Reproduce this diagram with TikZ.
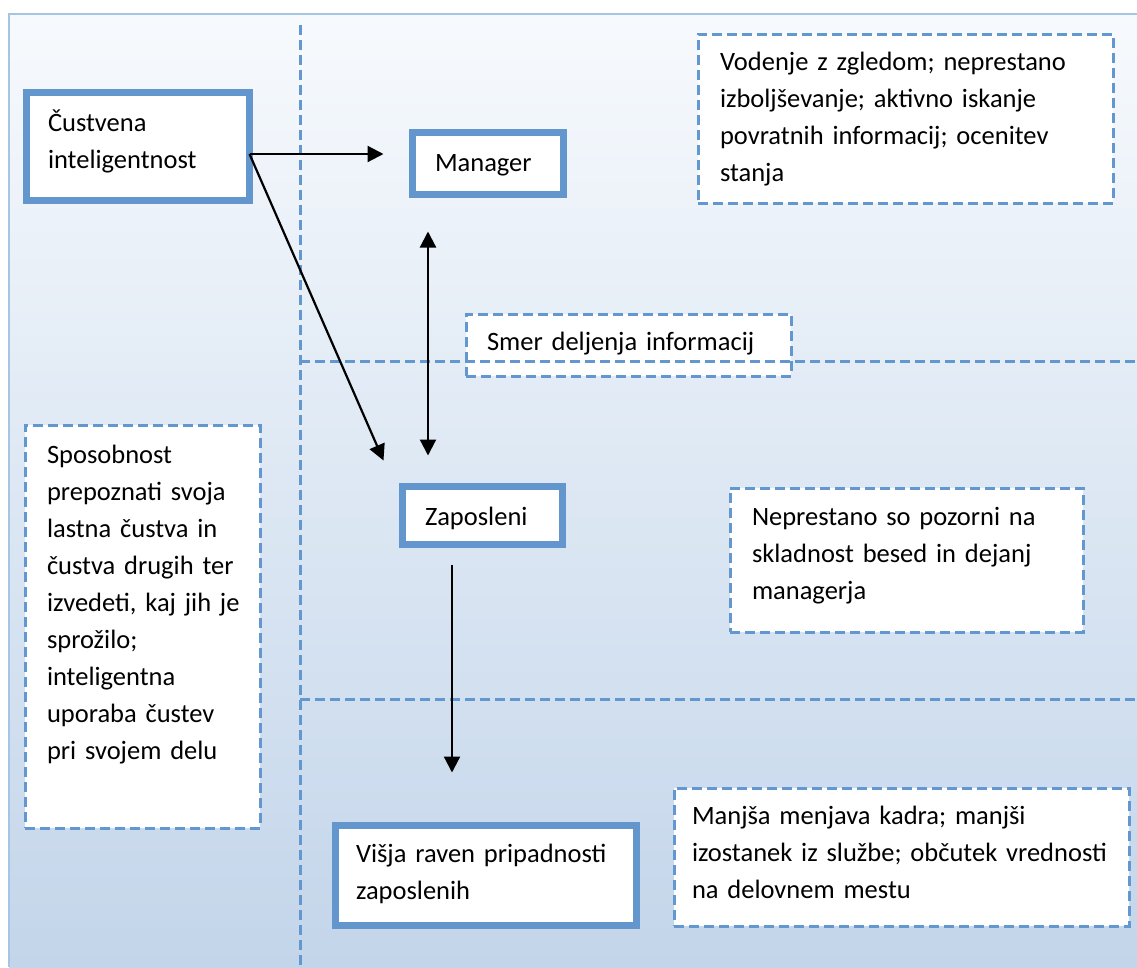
\documentclass[tikz,border=0pt]{standalone}
\usepackage{fontspec}
\setmainfont{Carlito}
\usetikzlibrary{arrows.meta}
\definecolor{bgtop}{RGB}{247,250,253}
\definecolor{bgbot}{RGB}{195,213,234}
\definecolor{framecol}{RGB}{166,196,228}
\definecolor{dashblue}{RGB}{99,151,207}
\definecolor{thickblue}{RGB}{98,150,204}
\tikzset{
  thickbox/.style={draw=thickblue, line width=7pt, fill=white, inner sep=0pt, outer sep=0pt, rectangle},
  dashbox/.style={draw=dashblue, line width=3pt, fill=white, inner sep=0pt, outer sep=0pt, rectangle, dash pattern=on 10pt off 5pt},
  divline/.style={draw=dashblue, line width=3pt, dash pattern=on 10pt off 5pt},
  txt/.style={inner sep=0pt, outer sep=0pt, align=left, anchor=base west, font=\fontsize{26.5}{37}\selectfont},
  arr/.style={line width=2.2pt, black, -{Triangle[length=16pt,width=16pt]}},
  darr/.style={line width=2.2pt, black, {Triangle[length=16pt,width=16pt]}-{Triangle[length=16pt,width=16pt]}}
}
\begin{document}
\begin{tikzpicture}[x=1pt,y=-1pt]
\useasboundingbox (0,0) rectangle (1137,967);
\fill[white] (0,0) rectangle (1137,967);
\shade[top color=bgtop, bottom color=bgbot] (9,14) rectangle (1137,967);
\draw[framecol, line width=2.5pt] (9,967) -- (9,14) -- (1137,14);

% boxes
\node[thickbox, minimum width=223pt, minimum height=108pt] (cust) at (138,146.5) {};
\node[thickbox, minimum width=151pt, minimum height=62pt] (mgr) at (488,163.5) {};
\node[thickbox, minimum width=160pt, minimum height=58pt] (zap) at (482.5,515.5) {};
\node[thickbox, minimum width=301pt, minimum height=100pt] (visja) at (486,875.5) {};
\node[dashbox, minimum width=415pt, minimum height=169pt] (vod) at (905.5,118.5) {};
\node[dashbox, minimum width=325pt, minimum height=62pt] (smer) at (628.5,345) {};
\node[dashbox, minimum width=235pt, minimum height=403pt] (spos) at (142.5,626.5) {};
\node[dashbox, minimum width=353pt, minimum height=144pt] (nepr) at (906.5,560) {};
\node[dashbox, minimum width=455pt, minimum height=138pt] (manj) at (901.5,857) {};

% division lines
\coordinate (vtop) at (300,25);
\coordinate (vbot) at (300,967);
\coordinate (h1l) at (300,361);
\coordinate (h1r) at (1137,361);
\coordinate (h2l) at (300,699);
\coordinate (h2r) at (1137,699);
\draw[divline] (vtop) -- (vbot);
\draw[divline] (h1l) -- (h1r);
\draw[divline] (h2l) -- (h2r);

% texts
\node[txt, text width=200pt] (custt) at (48,131) {Čustvena\\inteligentnost};
\node[txt, text width=140pt] (mgrt) at (435,171) {Manager};
\node[txt, text width=140pt] (zapt) at (425,525) {Zaposleni};
\node[txt, text width=290pt] (visjat) at (356,862) {Višja raven pripadnosti\\zaposlenih};
\node[txt, text width=390pt] (vodt) at (720,70) {Vodenje z zgledom; neprestano\\izboljševanje; aktivno iskanje\\povratnih informacij; ocenitev\\stanja};
\node[txt, text width=300pt] (smert) at (487,350) {Smer deljenja informacij};
\node[txt, text width=220pt] (spost) at (47,463) {Sposobnost\\prepoznati svoja\\lastna čustva in\\čustva drugih ter\\izvedeti, kaj jih je\\sprožilo;\\inteligentna\\uporaba čustev\\pri svojem delu};
\node[txt, text width=340pt] (neprt) at (752,525) {Neprestano so pozorni na\\skladnost besed in dejanj\\managerja};
\node[txt, text width=440pt] (manjt) at (692,824) {Manjša menjava kadra; manjši\\izostanek iz službe; občutek vrednosti\\na delovnem mestu};

% connectors
\draw[arr] ([yshift=-7.5pt]cust.east) -- ([xshift=-29pt,yshift=9.5pt]mgr.west);
\draw[arr] ([yshift=-7.5pt]cust.east) -- ([xshift=-19pt,yshift=26pt]zap.north west);
\draw[darr] ([xshift=-60pt,yshift=-37pt]mgr.south) -- ([xshift=-54.5pt,yshift=31pt]zap.north);
\draw[arr] ([xshift=-30.5pt,yshift=-20pt]zap.south) -- ([xshift=-34pt,yshift=53pt]visja.north);
\end{tikzpicture}
\end{document}
